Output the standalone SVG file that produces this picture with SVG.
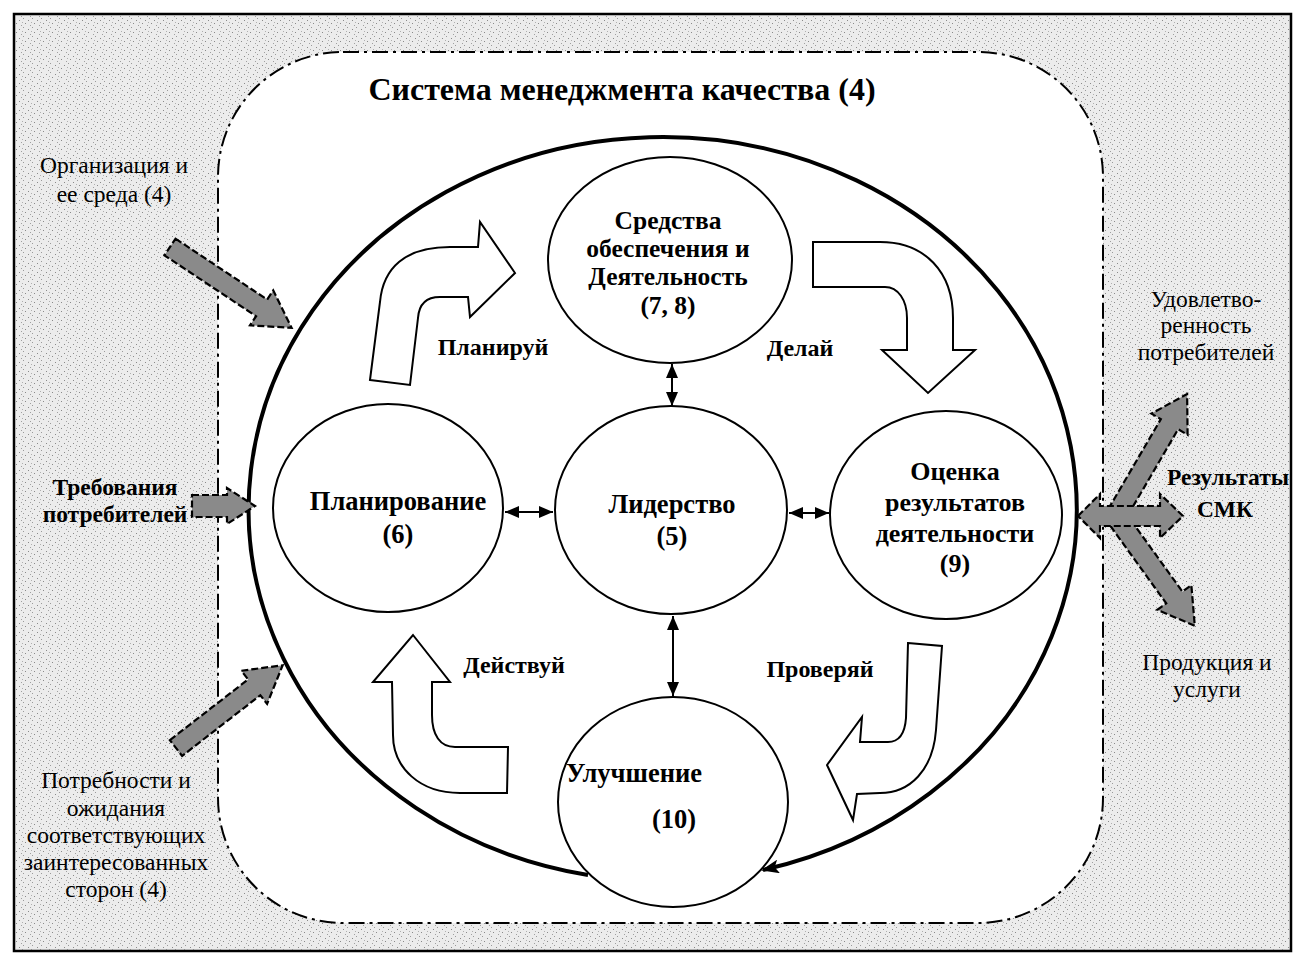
<svg xmlns="http://www.w3.org/2000/svg" width="1295" height="959" viewBox="0 0 1295 959">
<style>
.t{font-family:"Liberation Serif","Times New Roman",serif;fill:#000}
.b{font-weight:bold}
.node{fill:#fff;stroke:#000;stroke-width:2}
.blk{fill:#fff;stroke:#000;stroke-width:2;stroke-linejoin:miter}
.gray{fill:#8a8a8a;stroke:#000;stroke-width:2.2;stroke-dasharray:7 3}
.con{fill:none;stroke:#000;stroke-width:2}
</style>
<defs>
<pattern id="stip" width="9" height="9" patternUnits="userSpaceOnUse">
<rect width="9" height="9" fill="#ececec"/>
<rect x="1" y="2" width="1" height="1" fill="#8a8a8a"/>
<rect x="5" y="0" width="1" height="1" fill="#9a9a9a"/>
<rect x="7" y="5" width="1" height="1" fill="#8a8a8a"/>
<rect x="3" y="7" width="1" height="1" fill="#a0a0a0"/>
<rect x="4" y="4" width="1" height="1" fill="#b0b0b0"/>
</pattern>
<marker id="ah" viewBox="0 0 14 12" markerWidth="14" markerHeight="12" refX="14" refY="6" orient="auto-start-reverse" markerUnits="userSpaceOnUse">
<path d="M0,0 L14,6 L0,12 Z" fill="#000"/>
</marker>
<marker id="big" viewBox="0 0 18 14" markerWidth="18" markerHeight="14" refX="16" refY="7" orient="auto" markerUnits="userSpaceOnUse">
<path d="M0,0 L18,7 L0,14 L4,7 Z" fill="#000"/>
</marker>
</defs>

<rect x="0" y="0" width="1295" height="959" fill="#fff"/>
<rect id="frame" x="14" y="14" width="1277" height="937" fill="url(#stip)" stroke="#000" stroke-width="2.5"/>

<g id="qms-boundary">
<rect x="218" y="52" width="885" height="871" rx="125" ry="125" fill="#fff" stroke="#000" stroke-width="2" stroke-dasharray="16 5 3 5"/>
<text class="t b" x="622" y="100" font-size="32" text-anchor="middle">Система менеджмента качества (4)</text>
</g>

<g id="connectors">
<path d="M588,875 A414,372 0 1 1 763,870" fill="none" stroke="#000" stroke-width="4" marker-end="url(#big)"/>
<line class="con" x1="505" y1="512" x2="553" y2="512" marker-start="url(#ah)" marker-end="url(#ah)"/>
<line class="con" x1="789" y1="513" x2="829" y2="513" marker-start="url(#ah)" marker-end="url(#ah)"/>
<line class="con" x1="672" y1="364" x2="672" y2="406" marker-start="url(#ah)" marker-end="url(#ah)"/>
<line class="con" x1="673" y1="616" x2="673" y2="696" marker-start="url(#ah)" marker-end="url(#ah)"/>
</g>

<g id="cycle-arrows">
<path class="blk" d="M370,380 L410,385 L418,318 C419,304 426,297 440,297 L468,297 L470,317 L515,273 L480,222 L478,247 L450,247 C405,247 383,268 380,302 Z"/>
<path class="blk" d="M813,242 L880,242 C925,242 953,272 953,318 L953,350 L975,350 L928,393 L882,350 L907,350 L907,318 C907,300 898,287 885,287 L813,287 Z"/>
<path class="blk" d="M908,643 L942,646 L936,730 C933,770 910,793 880,793 L857,794 L853,820 L827,765 L862,717 L860,742 L888,742 C900,742 905,732 906,718 Z"/>
<path class="blk" d="M413,635 L450,682 L432,682 L432,715 C432,735 440,747 455,747 L508,747 L507,793 L460,793 C420,793 393,768 393,735 L392,682 L373,682 Z"/>
<text class="t b" x="493" y="355" font-size="24" text-anchor="middle">Планируй</text>
<text class="t b" x="800" y="356" font-size="24" text-anchor="middle">Делай</text>
<text class="t b" x="514" y="673" font-size="24" text-anchor="middle">Действуй</text>
<text class="t b" x="820" y="677" font-size="24" text-anchor="middle">Проверяй</text>
</g>

<g id="node-support">
<ellipse class="node" cx="670" cy="260" rx="122" ry="103"/>
<text class="t b" font-size="25.5" text-anchor="middle"><tspan x="668" y="229">Средства</tspan><tspan x="668" y="257">обеспечения и</tspan><tspan x="668" y="285">Деятельность</tspan><tspan x="668" y="314">(7, 8)</tspan></text>
</g>

<g id="node-planning">
<ellipse class="node" cx="388" cy="508" rx="115" ry="104"/>
<text class="t b" font-size="26.5" text-anchor="middle"><tspan x="398" y="510">Планирование</tspan><tspan x="398" y="543">(6)</tspan></text>
</g>

<g id="node-leadership">
<ellipse class="node" cx="671" cy="510" rx="116" ry="104"/>
<text class="t b" font-size="26.5" text-anchor="middle"><tspan x="672" y="513">Лидерство</tspan><tspan x="672" y="545">(5)</tspan></text>
</g>

<g id="node-evaluation">
<ellipse class="node" cx="946" cy="515" rx="116" ry="104"/>
<text class="t b" font-size="26" text-anchor="middle"><tspan x="955" y="480">Оценка</tspan><tspan x="955" y="511">результатов</tspan><tspan x="955" y="542">деятельности</tspan><tspan x="955" y="572">(9)</tspan></text>
</g>

<g id="node-improvement">
<ellipse class="node" cx="673" cy="802" rx="115" ry="105"/>
<text class="t b" x="566" y="782" font-size="26.5">Улучшение</text>
<text class="t b" x="674" y="828" font-size="26.5" text-anchor="middle">(10)</text>
</g>

<g id="inputs">
<path class="gray" transform="translate(170,247) rotate(33.6)" d="M0,-10 L110,-10 L110,-21 L146,0 L110,21 L110,10 L0,10 Z"/>
<path class="gray" transform="translate(192,506)" d="M0,-11 L35,-11 L35,-18 L63,0 L35,18 L35,11 L0,11 Z"/>
<path class="gray" transform="translate(176,748) rotate(-37.8)" d="M0,-10 L99,-10 L99,-21 L135,0 L99,21 L99,10 L0,10 Z"/>
<text class="t" font-size="23.5" text-anchor="middle"><tspan x="114" y="173">Организация и</tspan><tspan x="114" y="202">ее среда (4)</tspan></text>
<text class="t b" font-size="23.5" text-anchor="middle"><tspan x="115" y="495">Требования</tspan><tspan x="115" y="522">потребителей</tspan></text>
<text class="t" font-size="23.5" text-anchor="middle"><tspan x="116" y="788">Потребности и</tspan><tspan x="116" y="816">ожидания</tspan><tspan x="116" y="843">соответствующих</tspan><tspan x="116" y="870">заинтересованных</tspan><tspan x="116" y="897">сторон (4)</tspan></text>
</g>

<g id="outputs">
<path class="gray" transform="translate(1117,514) rotate(-59.7)" d="M0,-10 L104,-10 L104,-21 L139,0 L104,21 L104,10 L0,10 Z"/>
<path class="gray" transform="translate(1117,518) rotate(54.2)" d="M0,-10 L98,-10 L98,-21 L133,0 L98,21 L98,10 L0,10 Z"/>
<path class="gray" d="M1078,516 L1100,494 L1100,506 L1160,506 L1160,494 L1183,516 L1160,538 L1160,526 L1100,526 L1100,538 Z"/>
<text class="t" font-size="23.5" text-anchor="middle"><tspan x="1206" y="307">Удовлетво-</tspan><tspan x="1206" y="333">ренность</tspan><tspan x="1206" y="360">потребителей</tspan></text>
<text class="t b" font-size="23.5" text-anchor="middle"><tspan x="1228" y="485">Результаты</tspan><tspan x="1225" y="517">СМК</tspan></text>
<text class="t" font-size="23.5" text-anchor="middle"><tspan x="1207" y="670">Продукция и</tspan><tspan x="1207" y="697">услуги</tspan></text>
</g>
</svg>
